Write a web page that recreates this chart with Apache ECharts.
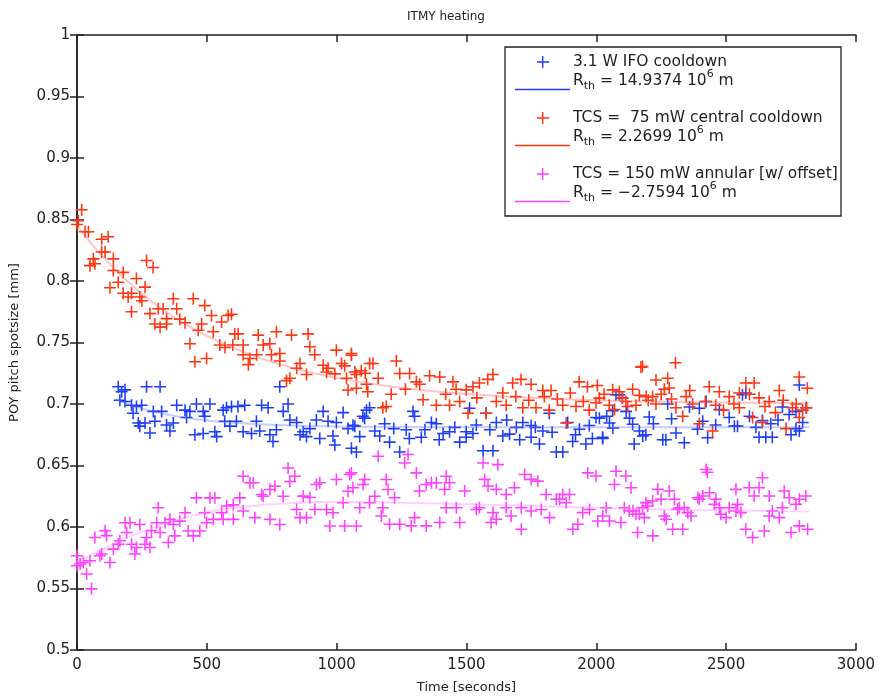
<!DOCTYPE html>
<html>
<head>
<meta charset="utf-8">
<script src="https://cdn.jsdelivr.net/npm/echarts@6/dist/echarts.min.js"></script>
<style>html,body{margin:0;padding:0;background:#fff}#c{width:878px;height:699px}</style>
</head>
<body>
<div id="c"></div>
<script>
// ---- data: [time (s), spotsize (mm)] ----
const bluePoints = [[159,0.714],[165,0.703],[172,0.710],[185,0.7115],[185,0.702],[210,0.699],[216,0.6925],[229,0.698],[236,0.6845],[242,0.682],[249,0.699],[262,0.6845],[268,0.714],[281,0.6764],[294,0.694],[300,0.686],[320,0.714],[326,0.694],[345,0.683],[358,0.678],[371,0.6845],[384,0.699],[416,0.695],[422,0.689],[435,0.694],[454,0.675],[460,0.700],[486,0.694],[486,0.676],[492,0.690],[512,0.700],[531,0.6775],[538,0.6735],[563,0.695],[569,0.686],[576,0.697],[589,0.682],[595,0.698],[614,0.686],[620,0.698],[640,0.6775],[646,0.699],[672,0.676],[691,0.686],[704,0.678],[711,0.699],[736,0.697],[743,0.675],[755,0.6695],[768,0.679],[781,0.714],[794,0.694],[813,0.700],[820,0.687],[846,0.685],[859,0.675],[871,0.6775],[884,0.6735],[897,0.680],[922,0.687],[935,0.672],[948,0.694],[967,0.686],[986,0.674],[993,0.6667],[999,0.685],[1025,0.693],[1044,0.680],[1057,0.664],[1063,0.6828],[1070,0.682],[1076,0.661],[1089,0.6735],[1101,0.690],[1108,0.6885],[1115,0.695],[1127,0.697],[1147,0.678],[1166,0.674],[1185,0.684],[1204,0.669],[1220,0.680],[1243,0.661],[1268,0.679],[1280,0.672],[1294,0.694],[1300,0.690],[1326,0.673],[1340,0.679],[1365,0.685],[1384,0.684],[1395,0.671],[1410,0.676],[1435,0.6775],[1455,0.681],[1474,0.669],[1499,0.673],[1499,0.6775],[1512,0.6965],[1525,0.676],[1538,0.683],[1564,0.662],[1576,0.6925],[1590,0.679],[1602,0.662],[1615,0.685],[1640,0.674],[1655,0.687],[1666,0.6755],[1692,0.681],[1705,0.671],[1717,0.685],[1749,0.6825],[1749,0.673],[1765,0.681],[1781,0.6675],[1794,0.678],[1819,0.6925],[1830,0.677],[1846,0.661],[1871,0.661],[1890,0.685],[1909,0.6695],[1920,0.675],[1935,0.6795],[1960,0.6675],[1973,0.6825],[1985,0.672],[1999,0.689],[2012,0.6885],[2024,0.673],[2025,0.672],[2040,0.690],[2051,0.6845],[2063,0.6945],[2064,0.6805],[2076,0.7075],[2089,0.7075],[2101,0.705],[2115,0.694],[2128,0.6885],[2140,0.6835],[2146,0.6675],[2166,0.678],[2179,0.674],[2191,0.675],[2204,0.6895],[2220,0.684],[2256,0.671],[2268,0.671],[2275,0.700],[2290,0.688],[2307,0.6765],[2339,0.6685],[2359,0.6975],[2390,0.6795],[2397,0.6965],[2410,0.686],[2423,0.702],[2429,0.6725],[2460,0.683],[2474,0.6955],[2512,0.689],[2532,0.682],[2544,0.682],[2563,0.7075],[2576,0.709],[2590,0.690],[2615,0.681],[2627,0.673],[2640,0.6865],[2653,0.673],[2672,0.684],[2678,0.673],[2700,0.687],[2717,0.6975],[2743,0.6915],[2750,0.675],[2769,0.694],[2769,0.680],[2782,0.7155],[2782,0.678],[2795,0.685],[2808,0.697]];

const redPoints = [[0,0.846],[5,0.849],[18,0.858],[31,0.840],[44,0.840],[50,0.8125],[63,0.818],[69,0.814],[95,0.834],[95,0.8236],[108,0.8236],[120,0.836],[127,0.7945],[140,0.818],[140,0.8085],[159,0.799],[178,0.807],[178,0.790],[197,0.787],[210,0.790],[210,0.775],[229,0.802],[242,0.787],[250,0.784],[262,0.795],[268,0.8166],[281,0.7735],[293,0.811],[300,0.765],[313,0.7775],[320,0.7625],[332,0.7775],[345,0.7694],[345,0.765],[371,0.7856],[384,0.7775],[396,0.769],[416,0.766],[435,0.749],[448,0.7856],[454,0.7344],[467,0.760],[480,0.765],[492,0.780],[499,0.737],[518,0.772],[525,0.7587],[550,0.748],[557,0.7667],[570,0.746],[582,0.772],[595,0.773],[600,0.748],[608,0.757],[621,0.757],[640,0.748],[640,0.740],[660,0.732],[666,0.737],[692,0.740],[698,0.756],[717,0.748],[743,0.749],[749,0.740],[768,0.7587],[781,0.741],[781,0.735],[807,0.719],[820,0.7209],[826,0.756],[846,0.729],[859,0.733],[884,0.724],[890,0.757],[897,0.7465],[916,0.740],[948,0.7315],[961,0.726],[967,0.729],[993,0.7245],[999,0.7438],[1019,0.733],[1031,0.731],[1038,0.7209],[1044,0.7114],[1057,0.741],[1057,0.7397],[1070,0.726],[1076,0.724],[1076,0.7128],[1095,0.727],[1110,0.725],[1115,0.716],[1120,0.710],[1127,0.733],[1140,0.733],[1160,0.7209],[1178,0.697],[1191,0.698],[1210,0.708],[1230,0.735],[1243,0.7248],[1265,0.712],[1281,0.7248],[1307,0.718],[1320,0.716],[1333,0.7034],[1358,0.723],[1384,0.699],[1397,0.722],[1420,0.708],[1435,0.699],[1448,0.718],[1460,0.712],[1474,0.702],[1499,0.7115],[1506,0.6925],[1525,0.714],[1540,0.705],[1550,0.717],[1576,0.6925],[1582,0.720],[1602,0.724],[1615,0.702],[1640,0.709],[1653,0.699],[1678,0.717],[1690,0.706],[1710,0.720],[1717,0.697],[1740,0.703],[1749,0.716],[1768,0.697],[1794,0.711],[1800,0.706],[1819,0.695],[1826,0.711],[1850,0.704],[1871,0.699],[1884,0.6845],[1900,0.709],[1922,0.698],[1934,0.718],[1950,0.702],[1966,0.714],[1973,0.695],[1999,0.701],[2004,0.715],[2012,0.7048],[2030,0.708],[2050,0.699],[2063,0.7115],[2070,0.6955],[2089,0.710],[2100,0.705],[2114,0.702],[2121,0.698],[2140,0.712],[2153,0.699],[2166,0.707],[2172,0.730],[2178,0.7304],[2192,0.706],[2200,0.703],[2217,0.706],[2230,0.7195],[2230,0.700],[2250,0.708],[2262,0.712],[2275,0.721],[2281,0.713],[2290,0.704],[2305,0.7336],[2307,0.697],[2333,0.690],[2346,0.706],[2360,0.711],[2371,0.700],[2397,0.684],[2420,0.702],[2435,0.714],[2448,0.678],[2460,0.699],[2474,0.710],[2490,0.695],[2512,0.706],[2530,0.700],[2551,0.709],[2551,0.697],[2576,0.717],[2590,0.708],[2602,0.689],[2608,0.717],[2627,0.705],[2640,0.685],[2650,0.698],[2666,0.702],[2690,0.693],[2705,0.711],[2720,0.703],[2731,0.680],[2756,0.697],[2770,0.700],[2782,0.722],[2782,0.689],[2795,0.695],[2810,0.697],[2813,0.7128]];

const magentaPoints = [[0,0.5766],[0,0.5685],[12,0.5699],[24,0.5712],[37,0.5618],[50,0.5726],[56,0.5497],[69,0.5915],[88,0.5766],[95,0.578],[108,0.597],[114,0.593],[127,0.5712],[140,0.582],[159,0.586],[165,0.5888],[185,0.6035],[191,0.5955],[204,0.6035],[210,0.586],[223,0.578],[229,0.5834],[242,0.602],[262,0.586],[268,0.5915],[281,0.5834],[287,0.597],[307,0.6035],[313,0.6157],[320,0.5955],[339,0.6035],[352,0.5874],[358,0.6062],[371,0.602],[377,0.5928],[396,0.6048],[416,0.6116],[428,0.5968],[448,0.5928],[460,0.6237],[473,0.5968],[492,0.6116],[499,0.6035],[512,0.6237],[525,0.6062],[531,0.6237],[557,0.6116],[563,0.6062],[576,0.617],[602,0.618],[602,0.6062],[627,0.6237],[640,0.613],[640,0.6413],[666,0.6359],[679,0.6359],[685,0.6076],[711,0.6265],[717,0.625],[743,0.6305],[743,0.6062],[762,0.6332],[781,0.6021],[794,0.625],[813,0.648],[820,0.637],[839,0.6413],[846,0.6143],[859,0.6076],[871,0.6251],[884,0.6076],[897,0.624],[916,0.6143],[922,0.6345],[935,0.6359],[961,0.6143],[974,0.6008],[986,0.6116],[999,0.6386],[1025,0.6197],[1031,0.6008],[1044,0.629],[1050,0.6427],[1057,0.644],[1063,0.6319],[1076,0.6008],[1089,0.6157],[1102,0.6345],[1108,0.6386],[1127,0.6197],[1147,0.625],[1160,0.6575],[1172,0.609],[1178,0.6157],[1191,0.6386],[1198,0.6305],[1204,0.6022],[1223,0.6238],[1243,0.6022],[1262,0.6521],[1275,0.6589],[1287,0.6009],[1300,0.6076],[1307,0.644],[1319,0.6292],[1345,0.6346],[1345,0.6009],[1365,0.6359],[1384,0.6359],[1397,0.6036],[1416,0.6305],[1422,0.6413],[1422,0.6157],[1435,0.6359],[1461,0.6157],[1474,0.6036],[1493,0.6292],[1538,0.6143],[1550,0.6157],[1564,0.6521],[1570,0.6387],[1583,0.6333],[1595,0.6036],[1602,0.6117],[1615,0.6306],[1615,0.6063],[1621,0.6507],[1653,0.6265],[1653,0.6157],[1672,0.609],[1685,0.6319],[1711,0.6157],[1711,0.5982],[1724,0.6427],[1749,0.6387],[1749,0.613],[1775,0.6373],[1788,0.6143],[1807,0.6265],[1820,0.6076],[1846,0.6225],[1859,0.6225],[1871,0.6265],[1884,0.6198],[1897,0.6265],[1910,0.5982],[1929,0.6022],[1948,0.6117],[1967,0.644],[1974,0.6143],[1999,0.6414],[2006,0.6049],[2025,0.609],[2038,0.6157],[2051,0.6049],[2070,0.6346],[2076,0.6454],[2095,0.6036],[2108,0.6157],[2114,0.6414],[2127,0.613],[2134,0.6319],[2141,0.613],[2153,0.6103],[2159,0.5955],[2166,0.6103],[2178,0.6157],[2185,0.6076],[2191,0.6198],[2198,0.617],[2217,0.6211],[2218,0.5928],[2237,0.6306],[2250,0.6225],[2262,0.609],[2269,0.6063],[2281,0.6292],[2294,0.5982],[2301,0.6225],[2313,0.6144],[2320,0.6157],[2333,0.5982],[2339,0.6157],[2352,0.6117],[2365,0.609],[2391,0.6238],[2397,0.6225],[2410,0.6252],[2423,0.6467],[2428,0.6445],[2436,0.6279],[2455,0.6184],[2461,0.6225],[2474,0.6157],[2480,0.6103],[2500,0.6076],[2512,0.6157],[2538,0.613],[2538,0.6306],[2544,0.6184],[2557,0.6117],[2576,0.5982],[2589,0.6319],[2602,0.5915],[2608,0.6252],[2627,0.6319],[2640,0.64],[2647,0.5968],[2666,0.6252],[2666,0.609],[2678,0.613],[2705,0.6076],[2717,0.6157],[2724,0.6292],[2743,0.6238],[2750,0.5955],[2769,0.6184],[2782,0.6225],[2782,0.6009],[2807,0.6252],[2814,0.5982]];

// fitted curves
const blueFit = [[150,0.704],[250,0.6964],[350,0.6913],[450,0.6879],[600,0.6848],[800,0.6827],[1000,0.6818],[1500,0.6811],[2000,0.681],[2820,0.681]];
const redFit = [[0,0.845],[100,0.8196],[200,0.7987],[300,0.7814],[400,0.7672],[500,0.7554],[600,0.7457],[700,0.7377],[800,0.7311],[900,0.7257],[1000,0.7212],[1200,0.7144],[1400,0.7098],[1600,0.7067],[1800,0.7046],[2000,0.7031],[2200,0.7021],[2400,0.7014],[2600,0.701],[2820,0.7006]];
const magentaFit = [[0,0.571],[100,0.582],[200,0.592],[300,0.600],[400,0.6065],[550,0.614],[750,0.6185],[1000,0.6205],[1200,0.620],[1500,0.6185],[1800,0.6168],[2100,0.615],[2400,0.6138],[2820,0.6125]];

const legendTitles = ['3.1 W IFO cooldown', 'TCS =  75 mW central cooldown', 'TCS = 150 mW annular [w/ offset]'];
const legendRth = ['14.9374', '2.2699', '\u22122.7594'];
const seriesColors = ['#1f3df2', '#ff3410', '#ff40ff'];
const fitColors = ['rgba(90,110,255,0.35)', 'rgba(255,90,90,0.35)', 'rgba(255,120,255,0.35)'];

const FONT = 'DejaVu Sans';
const PLUS = 'path://M4.35,0H5.65V4.35H10V5.65H5.65V10H4.35V5.65H0V4.35H4.35Z';

const chart = echarts.init(document.getElementById('c'));

function scatter(data, color) {
  return { type: 'scatter', data, symbol: PLUS, symbolSize: 12, itemStyle: { color, opacity: 1 }, silent: true, animation: false };
}
function fitLine(data, color) {
  return { type: 'line', data, smooth: true, showSymbol: false, lineStyle: { color, width: 2 }, silent: true, animation: false, z: 3 };
}

// legend graphic
const lg = [];
lg.push({ type: 'rect', shape: { x: 505, y: 47, width: 336, height: 169 }, style: { fill: '#fff', stroke: '#222', lineWidth: 1.3 }, z: 100 });
const rowY = [62, 118, 174];
for (let i = 0; i < 3; i++) {
  const y = rowY[i];
  lg.push({ type: 'polygon', shape: { points: [[537,y-0.7],[542,y-0.7],[542,y-6],[543.4,y-6],[543.4,y-0.7],[549,y-0.7],[549,y+0.7],[543.4,y+0.7],[543.4,y+6],[542,y+6],[542,y+0.7],[537,y+0.7]] }, style: { fill: seriesColors[i] }, z: 101 });
  lg.push({ type: 'line', shape: { x1: 515, y1: y + 27.5, x2: 570, y2: y + 27.5 }, style: { stroke: seriesColors[i], lineWidth: 1.5 }, z: 101 });
  lg.push({ type: 'text', x: 573, y: y, style: { text: legendTitles[i], font: '15.5px "' + FONT + '"', fill: '#222', verticalAlign: 'middle' }, z: 101 });
  lg.push({ type: 'text', x: 573, y: y + 18.5, style: {
      text: 'R{sub|th} = ' + legendRth[i] + ' 10{sup|6} m',
      font: '15.5px "' + FONT + '"', fill: '#222', verticalAlign: 'middle',
      rich: {
        sub: { fontSize: 11, fontFamily: FONT, fill: '#222', padding: [12, 0, 0, 0] },
        sup: { fontSize: 11, fontFamily: FONT, fill: '#222', padding: [0, 0, 12, 0] }
      } }, z: 101 });
}

const axisCommon = {
  type: 'value', min: 0, max: 3000, interval: 500,
  axisLine: { show: true, lineStyle: { color: '#222', width: 1.5 } },
  axisTick: { show: true, inside: true, length: 7, lineStyle: { color: '#222', width: 1.5 } },
  splitLine: { show: false }
};

chart.setOption({
  animation: false,
  backgroundColor: '#fff',
  grid: { left: 77, right: 21, top: 35, bottom: 46, containLabel: false },
  xAxis: [
    Object.assign({}, axisCommon, {
      position: 'bottom',
      axisLabel: { color: '#222', fontSize: 15, fontFamily: FONT, margin: 8, formatter: v => String(v) },
      name: 'Time [seconds]', nameLocation: 'middle', nameGap: 31,
      nameTextStyle: { color: '#222', fontSize: 13, fontFamily: FONT }
    }),
    Object.assign({}, axisCommon, { position: 'top', axisLabel: { show: false } })
  ],
  yAxis: [
    Object.assign({}, axisCommon, {
      min: 0.5, max: 1, interval: 0.05, position: 'left',
      axisLabel: { color: '#222', fontSize: 15, fontFamily: FONT, margin: 7, formatter: v => String(+v.toFixed(2)) },
      name: 'POY pitch spotsize [mm]', nameLocation: 'middle', nameGap: 56,
      nameTextStyle: { color: '#222', fontSize: 13, fontFamily: FONT }
    }),
    Object.assign({}, axisCommon, { min: 0.5, max: 1, interval: 0.05, position: 'right', axisLabel: { show: false } })
  ],
  title: { text: 'ITMY heating', left: 441, top: 6, textAlign: 'center', textStyle: { color: '#222', fontSize: 12, fontWeight: 'normal', fontFamily: FONT } },
  series: [
    scatter(bluePoints, seriesColors[0]),
    scatter(redPoints, seriesColors[1]),
    scatter(magentaPoints, seriesColors[2]),
    fitLine(blueFit, fitColors[0]),
    fitLine(redFit, fitColors[1]),
    fitLine(magentaFit, fitColors[2])
  ],
  graphic: lg
});
</script>
</body>
</html>
